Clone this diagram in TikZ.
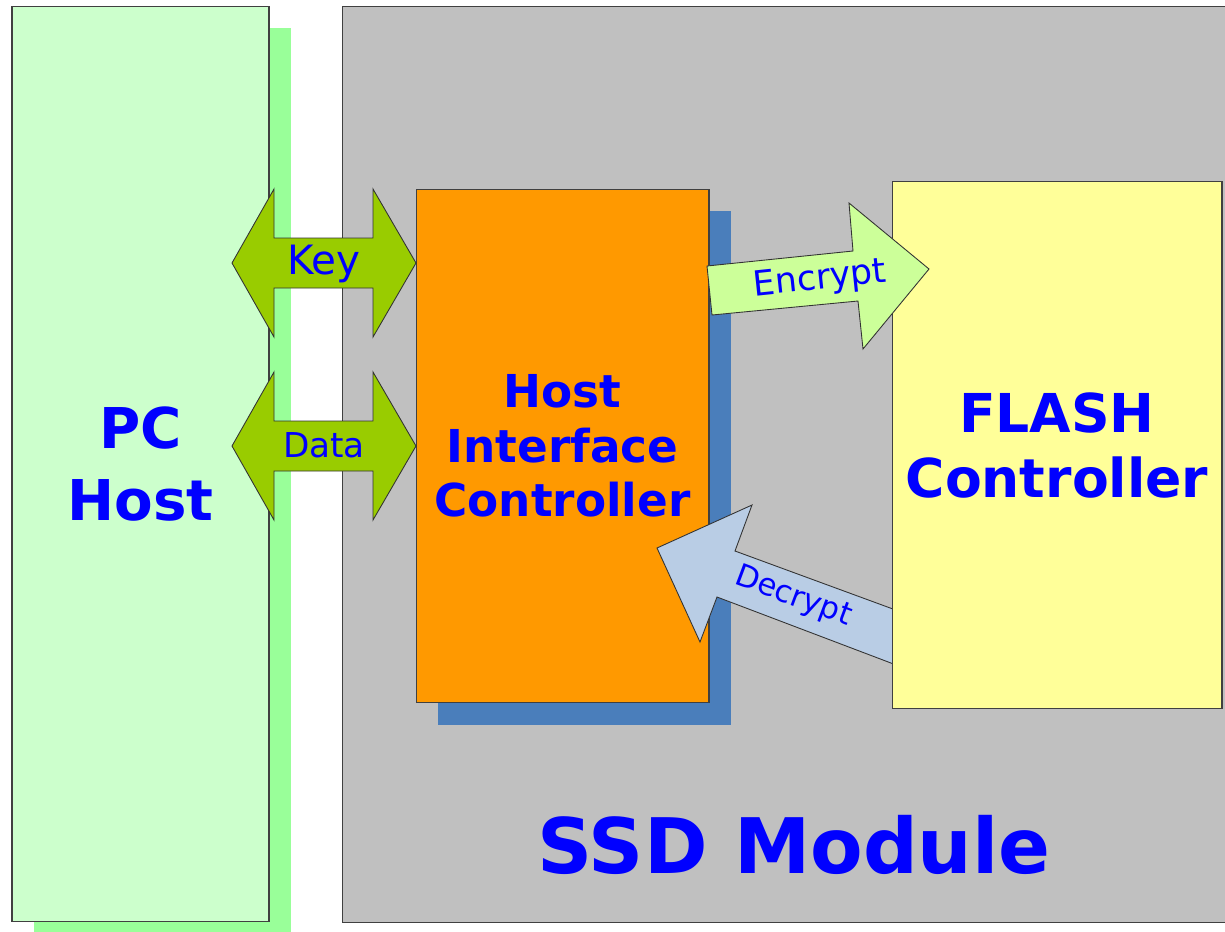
\documentclass[tikz,border=0pt]{standalone}
\usepackage{fontspec}
\setmainfont{DejaVu Sans}
\usepackage{tikz}
\usetikzlibrary{shadows}

\definecolor{pcgreen}{HTML}{CCFFCC}
\definecolor{pcshade}{HTML}{99FF99}
\definecolor{ssdgrey}{HTML}{C0C0C0}
\definecolor{hicorange}{HTML}{FF9900}
\definecolor{hicshade}{HTML}{4A7EBB}
\definecolor{flashyellow}{HTML}{FFFF99}
\definecolor{keygreen}{HTML}{99CC00}
\definecolor{encgreen}{HTML}{CCFF99}
\definecolor{decblue}{HTML}{B9CDE5}
\definecolor{textblue}{HTML}{0000FF}

\begin{document}
\begin{tikzpicture}[x=0.02cm, y=-0.02cm,
  box/.style={draw=black!75, line width=0.6pt, rectangle, inner sep=0pt, align=center, text=textblue},
  blockarrow/.style={draw=black!80, line width=0.5pt, line join=miter},
  lbl/.style={text=textblue, inner sep=0pt}]
\useasboundingbox (0,0) rectangle (1225,931);

% PC side
\node[box, fill=pcgreen, minimum width=5.14cm, minimum height=18.32cm,
  drop shadow={shadow xshift=0.44cm, shadow yshift=-0.44cm, fill=pcshade, opacity=1},
  font=\fontsize{32}{41.5}\selectfont\bfseries] (PCHost) at (140.5,464) {PC\\Host};

% SSD module
\node[box, fill=ssdgrey, minimum width=18.06cm, minimum height=18.34cm] (SSD) at (793.5,464.5) {};
\node[lbl, font=\fontsize{43.6}{50}\selectfont\bfseries, anchor=base] (SSDLabel) at (794,873) {SSD Module};

\node[box, fill=hicorange, minimum width=5.86cm, minimum height=10.28cm,
  drop shadow={shadow xshift=0.44cm, shadow yshift=-0.44cm, fill=hicshade, opacity=1},
  font=\fontsize{25.8}{31}\selectfont\bfseries] (HIC) at (562.5,446) {Host\\Interface\\Controller};

% key and data paths
\foreach \y/\name/\fs in {263/Key/23, 446/Data/19.5}
{
  \filldraw[blockarrow, fill=keygreen] (232,\y) -- (274,\y-74) -- (274,\y-25) -- (373,\y-25) -- (373,\y-74)
    -- (416,\y) -- (373,\y+74) -- (373,\y+25) -- (274,\y+25) -- (274,\y+74) -- cycle;
  \node[lbl, font=\fontsize{\fs}{\fs}\selectfont, anchor=base] (\name) at (324,\y+11.5) {\name};
}

% decrypt goes under the flash box
\filldraw[blockarrow, fill=decblue] (657,548) -- (752,505) -- (735,551) -- (912,616) -- (912,671)
  -- (717,597) -- (700,642) -- cycle;
\node[lbl, font=\fontsize{17.5}{17.5}\selectfont, rotate=-20.5] (Decrypt) at (793,597) {Decrypt};

\node[box, fill=flashyellow, minimum width=6.6cm, minimum height=10.56cm,
  font=\fontsize{30.5}{37}\selectfont\bfseries] (Flash) at (1057,445) {FLASH\\Controller};

\filldraw[blockarrow, fill=encgreen] (707,266) -- (853,251) -- (849,203) -- (929,269) -- (863,349)
  -- (858,301) -- (712,315) -- cycle;
\node[lbl, font=\fontsize{19.8}{19.8}\selectfont, rotate=6] (Encrypt) at (820,280) {Encrypt};
\end{tikzpicture}
\end{document}
